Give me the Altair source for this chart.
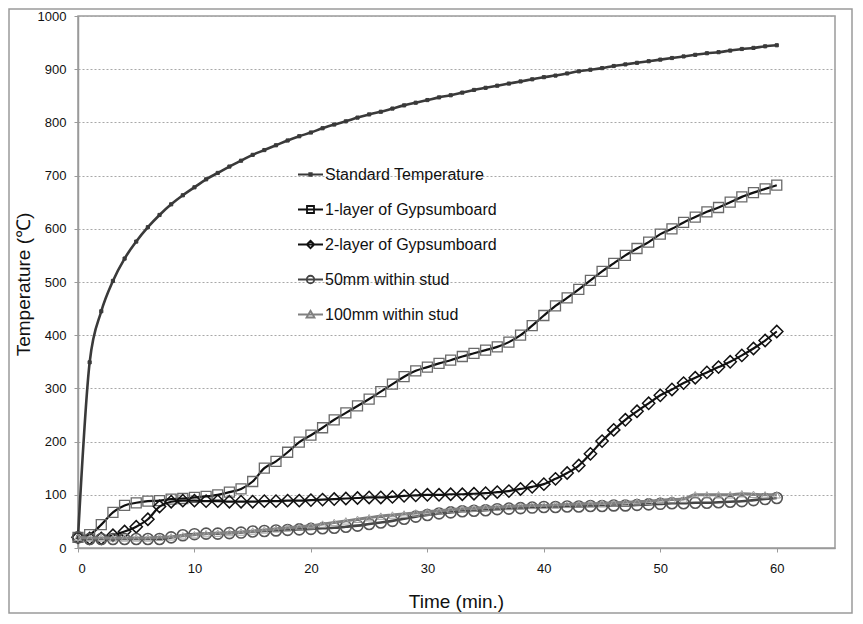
import altair as alt
import pandas as pd

minutes = list(range(61))

series_names = [
    "Standard Temperature",
    "1-layer of Gypsumboard",
    "2-layer of Gypsumboard",
    "50mm within stud",
    "100mm within stud",
]

standard = [20, 349, 445, 502, 544, 576, 603, 626, 646, 663, 678, 693, 705, 717, 728,
            739, 748, 757, 766, 774, 781, 789, 796, 802, 809, 815, 820, 826, 832, 837,
            842, 847, 851, 856, 861, 865, 869, 873, 877, 881, 885, 888, 892, 896, 899,
            902, 906, 909, 912, 915, 918, 921, 924, 927, 930, 932, 935, 938, 940, 943, 945]

one_layer = [20, 25, 44, 67, 80, 85, 88, 89, 92, 93, 95, 97, 100, 105, 111,
             125, 150, 163, 180, 199, 212, 226, 241, 254, 267, 280, 294, 308, 322, 333,
             340, 347, 353, 360, 366, 372, 378, 387, 400, 418, 437, 455, 470, 486, 503,
             520, 535, 550, 563, 575, 590, 600, 612, 622, 632, 640, 650, 660, 668, 675, 682]

two_layer = [20, 18, 18, 24, 31, 40, 54, 78, 87, 89, 89, 88, 88, 87, 87,
             87, 88, 88, 89, 89, 90, 91, 92, 93, 94, 95, 95, 96, 98, 99,
             100, 100, 101, 101, 102, 103, 105, 107, 111, 115, 120, 130, 141, 155, 177,
             201, 222, 241, 257, 272, 287, 298, 310, 320, 330, 340, 350, 362, 375, 390, 407]

stud_50 = [20, 17, 17, 17, 17, 17, 17, 17, 20, 24, 26, 27, 27, 28, 29,
           31, 32, 33, 34, 35, 36, 37, 38, 40, 42, 45, 48, 51, 55, 59,
           62, 65, 67, 69, 70, 71, 73, 74, 75, 76, 77, 77, 78, 78, 79,
           79, 80, 80, 81, 82, 83, 84, 84, 85, 85, 86, 87, 88, 90, 92, 94]

stud_100 = [20, 19, 19, 19, 19, 19, 19, 20, 21, 23, 25, 27, 28, 29, 30,
            32, 34, 36, 38, 40, 42, 45, 48, 51, 54, 57, 60, 62, 64, 66,
            68, 70, 72, 74, 75, 76, 77, 78, 79, 80, 80, 81, 82, 83, 83,
            84, 85, 86, 87, 88, 90, 91, 92, 100, 100, 100, 100, 102, 101, 100, 100]

x_ticks = [0, 10, 20, 30, 40, 50, 60]
y_ticks = [0, 100, 200, 300, 400, 500, 600, 700, 800, 900, 1000]

all_values = [standard, one_layer, two_layer, stud_50, stud_100]
rows = []
for name, vals in zip(series_names, all_values):
    for t, v in zip(minutes, vals):
        rows.append({"time": t, "temp": v, "series": name})
df = pd.DataFrame(rows)

FONT = "Liberation Sans"

styles = {
    "Standard Temperature": dict(line="#3a3a3a", lw=2.6, shape="square", size=10,
                                 mstroke="#3a3a3a", mfill="#3a3a3a", mw=1.0, filled=True),
    "1-layer of Gypsumboard": dict(line="#111111", lw=2.2, shape="square", size=100,
                                   mstroke="#6a6a6a", mfill=None, mw=1.3, filled=False),
    "2-layer of Gypsumboard": dict(line="#111111", lw=2.2, shape="diamond", size=150,
                                   mstroke="#111111", mfill=None, mw=1.5, filled=False),
    "50mm within stud": dict(line="#444444", lw=2.6, shape="circle", size=120,
                             mstroke="#555555", mfill=None, mw=1.6, filled=False),
    "100mm within stud": dict(line="#808080", lw=3.0, shape="triangle-up", size=55,
                              mstroke="#a0a0a0", mfill=None, mw=1.0, filled=False),
}

x_enc = alt.X("time:Q", scale=alt.Scale(domain=[0, 65], nice=False),
              axis=alt.Axis(values=x_ticks, title="Time (min.)", grid=False,
                            titleX=378, titleY=53, titleBaseline="middle",
                            titleFontSize=19, titleFontWeight="normal",
                            labelPadding=10))
y_enc = alt.Y("temp:Q", scale=alt.Scale(domain=[0, 1000], nice=False),
              axis=alt.Axis(values=y_ticks, format="d", title="Temperature (℃)", grid=True,
                            titleX=-55, titleY=268, titleAngle=-90,
                            titleAlign="center", titleBaseline="middle",
                            titleFontSize=19, titleFontWeight="normal",
                            labelPadding=8))

base = alt.Chart(df)
layers = []

frame = alt.Chart(alt.Data(values=[{"a": 1}])).mark_rect(
    fillOpacity=0, stroke="#9a9a9a", strokeWidth=1.5
).encode(x=alt.value(-69), x2=alt.value(774), y=alt.value(-7), y2=alt.value(597))
layers.append(frame)

for name in series_names:
    s = styles[name]
    sub = base.transform_filter(alt.datum.series == name)
    line = sub.mark_line(color=s["line"], strokeWidth=s["lw"],
                         interpolate="monotone").encode(x=x_enc, y=y_enc)
    pkw = dict(shape=s["shape"], size=s["size"], stroke=s["mstroke"],
               strokeWidth=s["mw"], filled=s["filled"], opacity=1)
    if s["filled"]:
        pkw["fill"] = s["mfill"]
    pts = sub.mark_point(**pkw).encode(x=x_enc, y=y_enc)
    layers.append(line)
    layers.append(pts)

legend_paths = [
    "M-1,0L1,0M-0.1,-0.1L0.1,-0.1L0.1,0.1L-0.1,0.1Z",
    "M-1,0L1,0M-0.28,-0.28L0.28,-0.28L0.28,0.28L-0.28,0.28Z",
    "M-1,0L1,0M0,-0.3L0.3,0L0,0.3L-0.3,0Z",
    "M-1,0L1,0M-0.3,0A0.3,0.3 0 1,0 0.3,0A0.3,0.3 0 1,0 -0.3,0Z",
    "M-1,0L1,0M0,-0.3L0.32,0.24L-0.32,0.24Z",
]
legend_colors = ["#3a3a3a", "#111111", "#111111", "#444444", "#808080"]

leg = alt.Legend(orient="none", legendX=219, legendY=145, title=None,
                 symbolSize=625, symbolStrokeWidth=1.8,
                 symbolFillColor="white", symbolOpacity=1,
                 labelFontSize=16, labelFont=FONT, labelColor="#111",
                 labelLimit=400,
                 rowPadding=13, labelOffset=1, padding=0)

legend_layer = base.mark_point(opacity=0, filled=False).encode(
    x=x_enc, y=y_enc,
    shape=alt.Shape("series:N", scale=alt.Scale(domain=series_names, range=legend_paths),
                    legend=leg),
    color=alt.Color("series:N", scale=alt.Scale(domain=series_names, range=legend_colors),
                    legend=leg),
)
layers.append(legend_layer)

chart = alt.layer(*layers).properties(
    width=757, height=532,
    autosize=alt.AutoSizeParams(type="none"),
    padding={"left": 70, "top": 8, "right": 18, "bottom": 66},
    background="white",
).configure_view(
    stroke="#9a9a9a", strokeWidth=1.5
).configure_axis(
    labelFont=FONT, titleFont=FONT, labelFontSize=13, labelColor="#111",
    titleColor="#111", domainColor="#9a9a9a", domainWidth=1.5,
    tickColor="#9a9a9a", tickSize=4, gridColor="#a8a8a8", gridDash=[2, 2],
    gridWidth=1,
)

chart.save("out.html", embed_options={"renderer": "svg", "actions": False})
